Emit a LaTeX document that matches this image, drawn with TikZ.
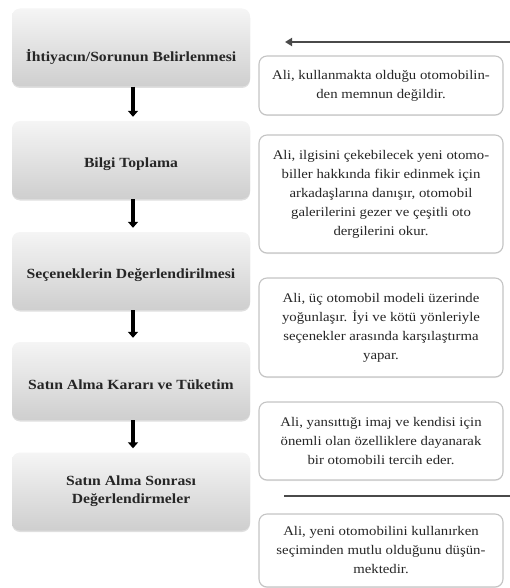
\documentclass[tikz,border=0pt]{standalone}
\usepackage{fontspec}
\setmainfont{Liberation Serif}[FakeStretch=1.12]
\usetikzlibrary{arrows.meta,shadows}
\definecolor{linegray}{HTML}{4A4A4A}
\definecolor{bordergray}{HTML}{C4C4C4}
\definecolor{txt}{HTML}{262626}
\newcommand{\dropby}[2]{\raisebox{-#1}[\height][\depth]{#2}}
\tikzset{
  stagebox/.style={rounded corners=8pt, top color=gray!8, bottom color=gray!38,
    draw=none, minimum width=238pt, minimum height=78pt, align=center,
    font=\bfseries\fontsize{14}{18}\selectfont, text=txt,
    drop shadow={opacity=0.25, shadow xshift=0pt, shadow yshift=-1.5pt}},
  notebox/.style={rounded corners=8pt, draw=bordergray, line width=1.1pt, fill=white,
    minimum width=244pt, align=center, font=\fontsize{13.2}{19}\selectfont, text=txt,
    drop shadow={opacity=0.15, shadow xshift=0pt, shadow yshift=-1pt}},
  flowarrow/.style={line width=3.5pt, -{Triangle[width=10pt,length=6pt]}, black},
  sidearrow/.style={line width=2.8pt, linegray, -{Triangle[width=8pt,length=7pt]}},
  sideline/.style={line width=2.8pt, linegray},
}
\begin{document}
\begin{tikzpicture}[x=1pt,y=-1pt]
\useasboundingbox (0,0) rectangle (510,588);
% left stage boxes
\node[stagebox] (L1) at (131,47.5) {\dropby{10pt}{İhtiyacın/Sorunun Belirlenmesi}};
\node[stagebox] (L2) at (131,160) {\dropby{4pt}{Bilgi Toplama}};
\node[stagebox] (L3) at (131,271) {\dropby{4pt}{Seçeneklerin Değerlendirilmesi}};
\node[stagebox] (L4) at (131,381) {\dropby{4pt}{Satın Alma Kararı ve Tüketim}};
\node[stagebox] (L5) at (131,491.5) {Satın Alma Sonrası\\Değerlendirmeler};
% arrows
\draw[flowarrow] (L1.south -| 133,0) -- ([yshift=4pt]L2.north -| 133,0);
\draw[flowarrow] (L2.south -| 133,0) -- ([yshift=4pt]L3.north -| 133,0);
\draw[flowarrow] (L3.south -| 133,0) -- ([yshift=4pt]L4.north -| 133,0);
\draw[flowarrow] (L4.south -| 133,0) -- ([yshift=4pt]L5.north -| 133,0);
% right note boxes
\node[notebox, minimum height=59pt] (R1) at (381,85.5) {\raisebox{2pt}{Ali, kullanmakta olduğu otomobilin-}\\\raisebox{2pt}{den memnun değildir.}};
\node[notebox, minimum height=118pt] (R2) at (381,194) {Ali, ilgisini çekebilecek yeni otomo-\\biller hakkında fikir edinmek için\\arkadaşlarına danışır, otomobil\\galerilerini gezer ve çeşitli oto\\dergilerini okur.};
\node[notebox, minimum height=99pt] (R3) at (381,327.5) {Ali, üç otomobil modeli üzerinde\\yoğunlaşır. İyi ve kötü yönleriyle\\seçenekler arasında karşılaştırma\\yapar.};
\node[notebox, minimum height=78pt] (R4) at (381,441) {Ali, yansıttığı imaj ve kendisi için\\önemli olan özelliklere dayanarak\\bir otomobili tercih eder.};
\node[notebox, minimum height=73pt] (R5) at (381,550.5) {Ali, yeni otomobilini kullanırken\\seçiminden mutlu olduğunu düşün-\\mektedir.};
% side lines
\coordinate (TA1) at (510,42);
\coordinate (TA2) at (285,42);
\draw[sidearrow] (TA1) -- (TA2);
\coordinate (BL1) at (284,496);
\coordinate (BL2) at (510,496);
\draw[sideline] (BL1) -- (BL2);
\end{tikzpicture}
\end{document}
